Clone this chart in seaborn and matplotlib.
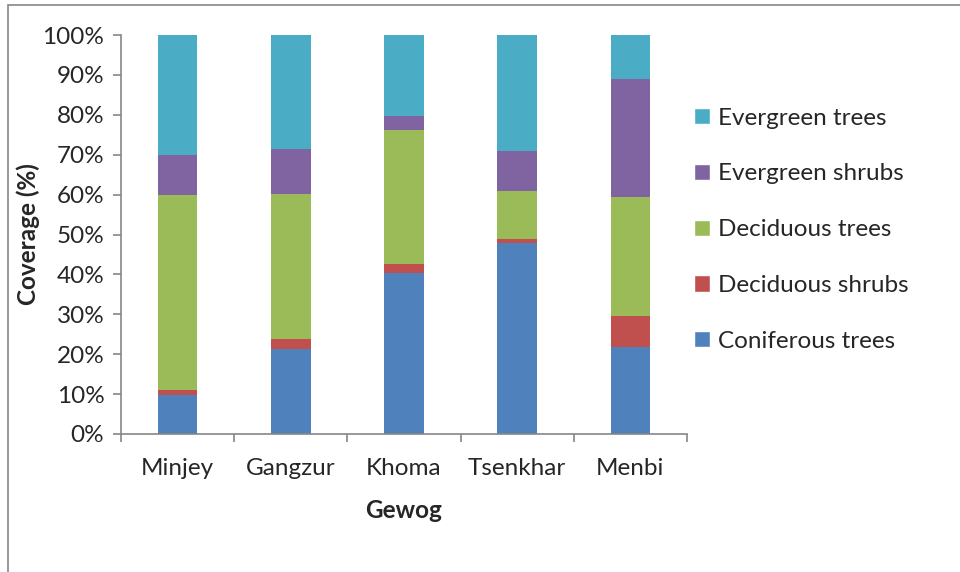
import pandas as pd
import matplotlib
matplotlib.use('Agg')
import matplotlib.pyplot as plt
from matplotlib.patches import Patch, Rectangle
import seaborn as sns

gewogs = ['Minjey', 'Gangzur', 'Khoma', 'Tsenkhar', 'Menbi']
coniferous_trees = [9.7, 21.4, 40.3, 47.8, 21.8]
deciduous_shrubs = [1.4, 2.5, 2.2, 1.1, 7.7]
deciduous_trees = [48.8, 36.2, 33.8, 11.9, 29.9]
evergreen_shrubs = [9.9, 11.3, 3.5, 10.1, 29.6]
evergreen_trees = [30.2, 28.6, 20.2, 29.1, 11.0]

layers = ['Coniferous trees', 'Deciduous shrubs', 'Deciduous trees',
          'Evergreen shrubs', 'Evergreen trees']
colors = ['#4F81BD', '#C0504D', '#9BBB59', '#8064A2', '#4BACC6']

df = pd.DataFrame({
    'Gewog': gewogs,
    'Coniferous trees': coniferous_trees,
    'Deciduous shrubs': deciduous_shrubs,
    'Deciduous trees': deciduous_trees,
    'Evergreen shrubs': evergreen_shrubs,
    'Evergreen trees': evergreen_trees,
})
# cumulative totals so each layer can be drawn behind the one below it
cum = df[layers].cumsum(axis=1)
cum['Gewog'] = df['Gewog']

sns.set_style('white')
plt.rcParams['font.family'] = ['Lato', 'DejaVu Sans']
fs = 17.5

fig = plt.figure(figsize=(9.6, 5.72), dpi=100)
ax = fig.add_axes([121 / 960, 1 - 434 / 572, 566 / 960, 399 / 572])

for layer, color in reversed(list(zip(layers, colors))):
    sns.barplot(data=cum, x='Gewog', y=layer, color=color, width=0.35,
                saturation=1, linewidth=0, ax=ax)

ax.set_xlim(-0.5, 4.5)
ax.set_ylim(0, 100)
ax.set_yticks(range(0, 101, 10))
ax.set_yticklabels([f'{v}%' for v in range(0, 101, 10)], fontsize=fs)
ax.set_xticks(range(5))
ax.set_xticklabels(gewogs, fontsize=fs)
ax.set_xticks([i - 0.5 for i in range(6)], minor=True)
ax.tick_params(axis='x', which='major', length=0, pad=17)
ax.tick_params(axis='x', which='minor', length=6, color='#868686', width=1.2, direction='out', bottom=True)
ax.tick_params(axis='y', length=6, color='#868686', width=1.2, direction='out', left=True, pad=6)

for side in ['top', 'right']:
    ax.spines[side].set_visible(False)
for side in ['left', 'bottom']:
    ax.spines[side].set_color('#868686')
    ax.spines[side].set_linewidth(1.2)

ax.set_xlabel('Gewog', fontsize=fs, fontweight='bold', labelpad=15)
ax.set_ylabel('Coverage (%)', fontsize=fs, fontweight='bold')
ax.yaxis.set_label_coords(-0.143, 0.5)

handles = [Patch(facecolor=c, label=l) for l, c in zip(layers, colors)][::-1]
fig.legend(handles=handles, loc='upper left', bbox_to_anchor=(684 / 960, 1 - 98 / 572),
           frameon=False, fontsize=fs, handlelength=0.65, handleheight=0.65,
           handletextpad=0.35, labelspacing=1.43, borderaxespad=0)

# outer chart border (partly cut off in the original)
fig.patches.append(Rectangle((7.5 / 960, -0.1), 1.2, 1.1 - 4.5 / 572, transform=fig.transFigure,
                             fill=False, edgecolor='#868686', linewidth=1.2))

fig.savefig('out.png', dpi=100)
